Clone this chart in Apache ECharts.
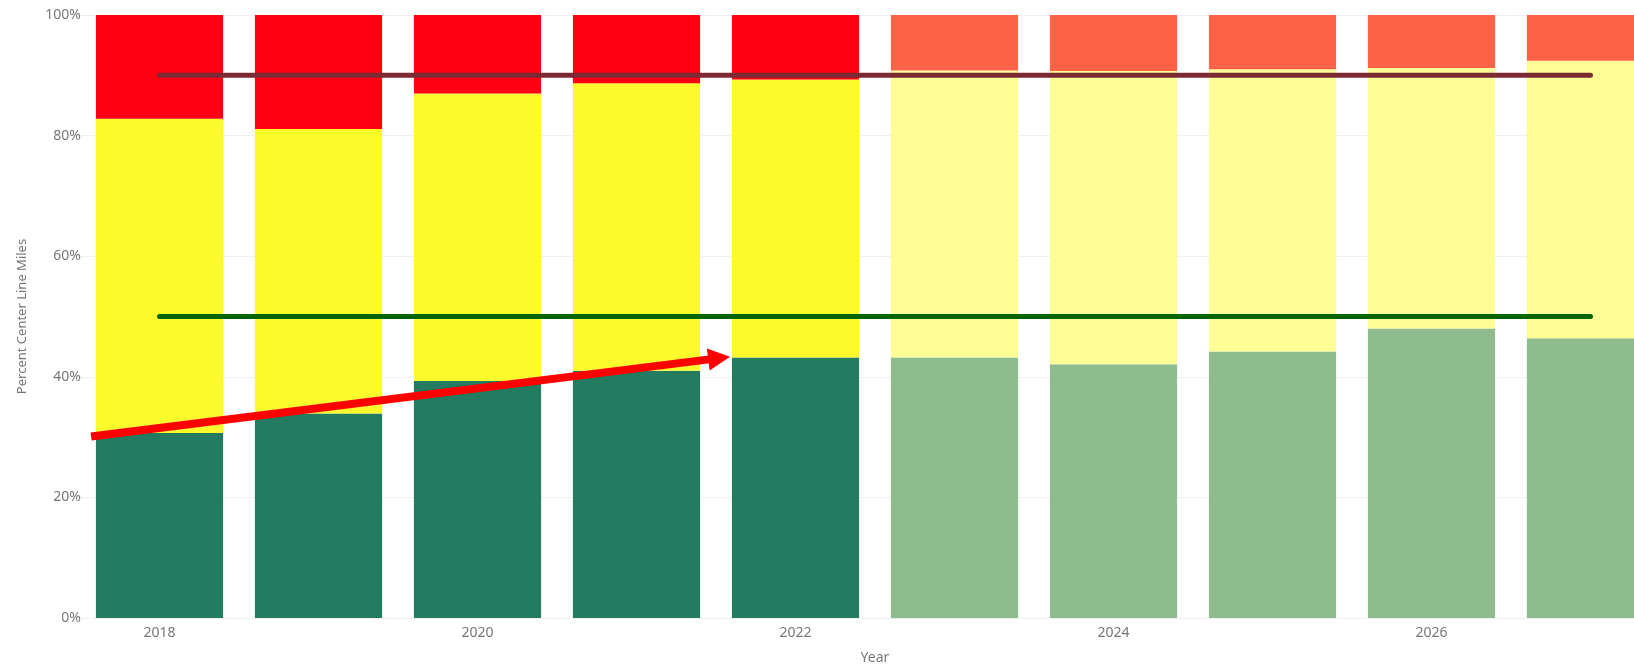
<!DOCTYPE html>
<html>
<head>
<meta charset="utf-8">
<script src="https://cdn.jsdelivr.net/npm/echarts@6/dist/echarts.min.js"></script>
<style>
  html, body { margin: 0; padding: 0; background: #fff; }
  #chart { width: 1634px; height: 667px; }
</style>
</head>
<body>
<div id="chart"></div>
<script>
// Pavement condition by year, share of center line miles (%)
const years = ['2018', '2019', '2020', '2021', '2022', '2023', '2024', '2025', '2026', '2027']
const good = [30.7, 33.9, 39.3, 41.0, 43.2, 43.2, 42.1, 44.2, 48.0, 46.4]
const fair = [52.1, 47.2, 47.7, 47.7, 46.1, 47.6, 48.6, 46.8, 43.2, 46.0]
const poor = [17.2, 18.9, 13.0, 11.3, 10.7, 9.2, 9.3, 9.0, 8.8, 7.6]
// first projected year (lighter colours from here on)
const firstProjected = 5

// target lines
const goodTarget = [50, 50, 50, 50, 50, 50, 50, 50, 50, 50]
const poorTarget = [90, 90, 90, 90, 90, 90, 90, 90, 90, 90]

// trend arrow, in [category position, percent]
const arrowStart = [-0.43, 30.1]
const arrowEnd = [3.52, 43.1]

const yTicks = [0, 20, 40, 60, 80, 100]

const FONT = "'Segoe UI', 'Noto Sans', sans-serif"
const LABEL_COLOR = '#777777'

const colors = {
  good: ['#237B60', '#8FBC8F'],
  fair: ['#FDFB2B', '#FEFD96'],
  poor: ['#FF0012', '#FF6347'],
}

const pick = pair => p => (p.dataIndex >= firstProjected ? pair[1] : pair[0])

const barSeries = (name, data, pair) => ({
  name,
  type: 'bar',
  stack: 'cond',
  data,
  barWidth: '80%',
  itemStyle: { color: pick(pair) },
  emphasis: { disabled: true },
})

const targetSeries = (name, data, color) => ({
  name,
  type: 'line',
  data,
  symbol: 'none',
  z: 5,
  lineStyle: { color, width: 5, cap: 'round' },
  emphasis: { disabled: true },
})

const chart = echarts.init(document.getElementById('chart'), null, { renderer: 'canvas' })

chart.setOption({
  animation: false,
  // the plot runs past the right edge, the last bar is cut off
  grid: { left: 80, top: 15, width: 1590, height: 603, containLabel: false, outerBoundsMode: 'none' },
  xAxis: [
    {
      type: 'category',
      data: years,
      name: 'Year',
      nameLocation: 'middle',
      nameGap: 33,
      nameTextStyle: { color: LABEL_COLOR, fontSize: 14, fontFamily: FONT },
      axisLine: { show: false },
      axisTick: { show: false },
      axisLabel: { interval: 1, color: LABEL_COLOR, fontSize: 14, fontFamily: FONT, margin: 8 },
    },
    {
      // hidden helper axis so the arrow can sit between categories
      type: 'value',
      min: -0.5,
      max: years.length - 0.5,
      show: false,
    },
  ],
  yAxis: {
    type: 'value',
    min: yTicks[0],
    max: yTicks[yTicks.length - 1],
    interval: 20,
    name: 'Percent Center Line Miles',
    nameLocation: 'middle',
    nameGap: 51,
    nameTextStyle: { color: LABEL_COLOR, fontSize: 13, fontFamily: FONT },
    axisLine: { show: false },
    axisTick: { show: false },
    axisLabel: { formatter: '{value}%', color: LABEL_COLOR, fontSize: 14, fontFamily: FONT, margin: -1 },
    splitLine: { lineStyle: { color: '#F0F0F0', width: 1 } },
  },
  series: [
    barSeries('Good', good, colors.good),
    barSeries('Fair', fair, colors.fair),
    barSeries('Poor', poor, colors.poor),
    targetSeries('Poor target', poorTarget, '#7B2A33'),
    targetSeries('Good target', goodTarget, '#006400'),
    {
      name: 'Trend',
      type: 'line',
      xAxisIndex: 1,
      data: [],
      z: 10,
      markLine: {
        silent: true,
        symbol: ['none', 'triangle'],
        symbolSize: [22, 22],
        label: { show: false },
        lineStyle: { color: '#FF0000', width: 8, type: 'solid' },
        data: [[{ coord: arrowStart }, { coord: arrowEnd }]],
      },
    },
  ],
})
</script>
</body>
</html>
